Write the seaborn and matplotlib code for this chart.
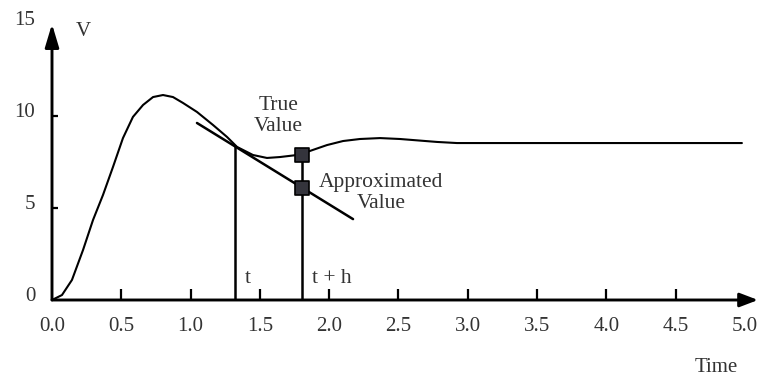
import numpy as np
import pandas as pd
import matplotlib
matplotlib.use("Agg")
import matplotlib.pyplot as plt
import matplotlib.transforms as mtransforms
import seaborn as sns

# Response of the system: V against time
time = [0.0, 0.072, 0.144, 0.224, 0.296, 0.368, 0.44, 0.512, 0.584, 0.657,
        0.729, 0.801, 0.873, 0.945, 1.046, 1.162, 1.263, 1.335, 1.45, 1.551,
        1.645, 1.768, 1.861, 1.984, 2.1, 2.222, 2.367, 2.511, 2.778, 2.922,
        3.326, 4.048, 4.978]
voltage = [0.0, 0.27, 1.09, 2.72, 4.35, 5.71, 7.23, 8.8, 9.95, 10.6,
           11.03, 11.14, 11.03, 10.71, 10.22, 9.51, 8.86, 8.32, 7.88, 7.72,
           7.77, 7.88, 8.1, 8.42, 8.64, 8.75, 8.8, 8.75, 8.59, 8.53,
           8.53, 8.53, 8.53]

# Euler step: start point, step size, slope of the tangent at t
t = 1.32
v_t = 8.35
h = 0.484
slope = -4.64
tangent_span = [1.046, 2.172]
true_value = 7.88

x_ticks = [0.0, 0.5, 1.0, 1.5, 2.0, 2.5, 3.0, 3.5, 4.0, 4.5, 5.0]
x_tick_labels = ["0.0", "0.5", "1.0", "1.5", "2.0", "2.5", "3.0", "3.5", "4.0", "4.5", "5.0"]
y_ticks = [0, 5, 10, 15]
y_tick_labels = ["0", "5", "10", "15"]

sns.set_theme(style="white")
plt.rcParams["font.family"] = ["Liberation Serif", "DejaVu Serif"]

text_color = "#333333"
fig = plt.figure(figsize=(7.58, 3.83), dpi=100)
ax = fig.add_axes([52 / 758, 83 / 383, 706 / 758, 276 / 383])
ax.set_xlim(0, 5.094)
ax.set_ylim(0, 15)
for s in ax.spines.values():
    s.set_visible(False)

curve = pd.DataFrame({"Time": time, "V": voltage})
sns.lineplot(data=curve, x="Time", y="V", ax=ax, color="black", lw=1.5, sort=False)

# tangent line from the point (t, v_t)
tx = np.array(tangent_span)
tangent = pd.DataFrame({"Time": tx, "V": v_t + slope * (tx - t)})
sns.lineplot(data=tangent, x="Time", y="V", ax=ax, color="black", lw=1.8)

approx_value = v_t + slope * h
ax.plot([t, t], [0, v_t], color="black", lw=1.8)
ax.plot([t + h, t + h], [0, true_value], color="black", lw=1.8)

pts = pd.DataFrame({"Time": [t + h, t + h], "V": [true_value, approx_value]})
sns.scatterplot(data=pts, x="Time", y="V", ax=ax, marker="s", s=110,
                color="#34343c", edgecolor="black", linewidth=1.2, zorder=5)

# axes drawn as arrows
ax.annotate("", xy=(1, 0), xytext=(0, 0), xycoords="axes fraction",
            arrowprops=dict(arrowstyle="-|>,head_length=11,head_width=4.2",
                            mutation_scale=1, lw=2.1, color="black",
                            shrinkA=0, shrinkB=0), annotation_clip=False)
ax.annotate("", xy=(0, 1), xytext=(0, 0), xycoords="axes fraction",
            arrowprops=dict(arrowstyle="-|>,head_length=14,head_width=4.2",
                            mutation_scale=1, lw=2.1, color="black",
                            shrinkA=0, shrinkB=0), annotation_clip=False)

ax.set_xticks(x_ticks)
ax.set_xticklabels(x_tick_labels)
ax.set_yticks(y_ticks)
ax.set_yticklabels(y_tick_labels)
ax.tick_params(axis="x", direction="in", length=8, width=1.6, pad=12.5,
               labelsize=15, labelcolor=text_color, color="black", bottom=True)
ax.tick_params(axis="y", direction="in", length=4, width=1.6, pad=12,
               labelsize=15, labelcolor=text_color, color="black", left=True)
for tk in [ax.xaxis.get_major_ticks()[0], ax.xaxis.get_major_ticks()[-1],
           ax.yaxis.get_major_ticks()[0], ax.yaxis.get_major_ticks()[-1]]:
    tk.tick1line.set_visible(False)
shift = mtransforms.ScaledTranslation(0, 6 / 100, fig.dpi_scale_trans)
for lab in ax.get_yticklabels():
    lab.set_transform(lab.get_transform() + shift)

ax.set_xlabel("Time", fontsize=15, color=text_color)
ax.xaxis.set_label_coords(0.9405, -0.245)
ax.xaxis.label.set_va("center")
ax.set_ylabel("V", fontsize=15, color=text_color, rotation=0)
ax.yaxis.set_label_coords(0.0446, 0.972)
ax.yaxis.label.set_va("center")
ax.yaxis.label.set_ha("center")

ax.annotate("True\nValue", xy=(t + h, true_value), xytext=(-17, 28),
            textcoords="offset points", ha="center", va="center",
            fontsize=15.5, color=text_color, linespacing=1.15)
ax.annotate("Approximated\nValue", xy=(t + h, approx_value), xytext=(57, -4),
            textcoords="offset points", ha="center", va="center",
            fontsize=15.5, color=text_color, linespacing=1.15)
ax.annotate("t", xy=(t, 0), xytext=(7, 12), textcoords="offset points",
            ha="left", va="baseline", fontsize=15.5, color=text_color)
ax.annotate("t + h", xy=(t + h, 0), xytext=(7, 12), textcoords="offset points",
            ha="left", va="baseline", fontsize=15.5, color=text_color)

fig.savefig("out.png", dpi=100)
